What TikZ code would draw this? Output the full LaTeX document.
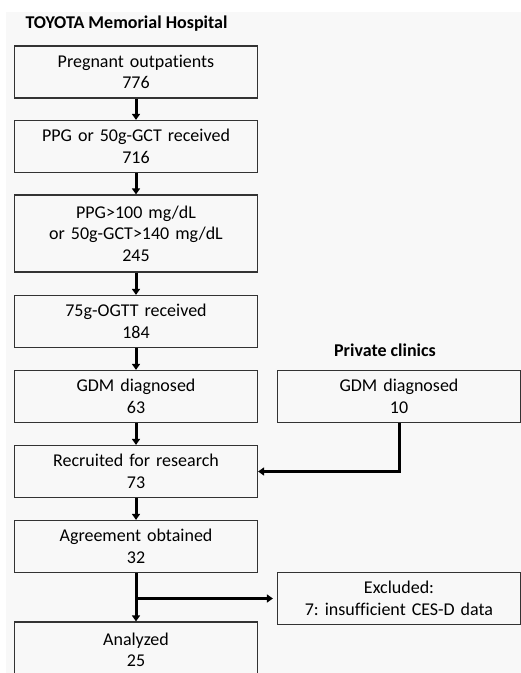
\documentclass[tikz,border=0pt]{standalone}
\usepackage{fontspec}
\setmainfont[Ligatures=NoCommon]{Carlito}
\usepackage{tikz}
\usetikzlibrary{arrows.meta}
\definecolor{bggrey}{HTML}{F8F8F8}
\frenchspacing

\begin{document}
\begin{tikzpicture}[x=1pt,y=-1pt,
	box/.style={draw=black!80,line width=1.2pt,text width=235pt,align=center,
		minimum height=52pt,inner sep=4pt,font=\fontsize{18}{21.6}\selectfont},
	head/.style={font=\fontsize{18}{21.6}\selectfont\bfseries},
	flow/.style={line width=3pt,-{Triangle[width=8pt,length=6pt]}}
	]
	\useasboundingbox (0,0) rectangle (521,673);
	\fill[bggrey] (6,12) rectangle (521,673);
	%%%%%%%%%%%%%%%
	\node[head,anchor=west] (hosp) at (22,24) {TOYOTA Memorial Hospital};
	\node[box] (outp) at (136,72) {Pregnant outpatients\\776};
	\node[box] (ppg) at (136,146.5) {PPG or 50g-GCT received\\716};
	\node[box,minimum height=77pt] (high) at (136,233.5) {PPG>100 mg/dL\\or 50g-GCT>140 mg/dL\\245};
	\node[box] (ogtt) at (136,321.5) {75g-OGTT received\\184};
	\node[box] (gdm) at (136,396.5) {GDM diagnosed\\63};
	\node[box] (recr) at (136,471.5) {Recruited for research\\73};
	\node[box] (agree) at (136,546.5) {Agreement obtained\\32};
	\node[box,minimum height=56pt] (anal) at (136,650) {Analyzed\\25};
	%%%%%%%%%%%%%%%
	\node[head] (priv) at (385,350) {Private clinics};
	\node[box] (gdmpriv) at (399,396.5) {GDM diagnosed\\10};
	\node[box] (excl) at (399,598.5) {Excluded:\\7: insufficient CES-D data};
	%%%%%%%%%%%%%%%
	\draw[flow] (outp) -- (ppg);
	\draw[flow] (ppg) -- (high);
	\draw[flow] (high) -- (ogtt);
	\draw[flow] (ogtt) -- (gdm);
	\draw[flow] (gdm) -- (recr);
	\draw[flow] (recr) -- (agree);
	\draw[flow] (agree) -- (anal);
	\draw[flow] (gdmpriv.south) |- (recr.east);
	\coordinate (split) at (agree.south |- excl.west);
	\draw[flow,shorten >=4pt] (split) -- (excl.west);
\end{tikzpicture}
\end{document}
